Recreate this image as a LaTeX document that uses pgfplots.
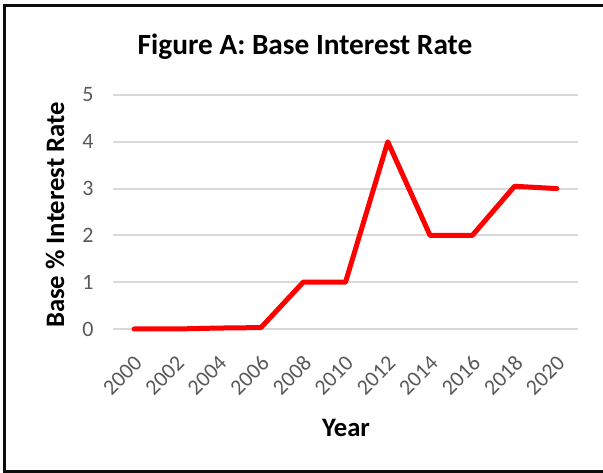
\documentclass[border=0pt]{standalone}
\usepackage{pgfplots}
\pgfplotsset{compat=1.18}
\usepackage{fontspec}
\setmainfont{Carlito}

\definecolor{gridgray}{HTML}{D9D9D9}
\definecolor{ticktext}{HTML}{595959}
\definecolor{framecol}{HTML}{0D0D0D}

\begin{document}
\begin{tikzpicture}[x=0.75pt,y=0.75pt]
% page area, 603 x 473 units
\useasboundingbox (0,0) rectangle (603,473);
% outer chart frame
\draw[framecol, line width=2.25pt] (620,467.5) -- (4,467.5) -- (4,1.5) -- (620,1.5);

\begin{axis}[
  at={(113*0.75pt,144*0.75pt)}, anchor=south west,
  scale only axis,
  width=348.75pt, height=175.5pt,
  xmin=1999, xmax=2021,
  ymin=0, ymax=5,
  xtick={2000,2002,...,2020},
  ytick={0,1,...,5},
  axis line style={draw=none},
  major tick length=0pt,
  ymajorgrids,
  grid style={gridgray, line width=1.5pt},
  /pgf/number format/assume math mode=true,
  /pgf/number format/1000 sep={},
  tick label style={font=\fontsize{16.5}{19}\selectfont, text=ticktext},
  yticklabel style={anchor=east, xshift=-11pt},
  xticklabel style={xshift=-0.75pt, yshift=-18.75pt, rotate=45, anchor=north east, inner sep=0pt},
  clip=false,
]
\addplot[red, line width=3.75pt, line join=round, line cap=round] coordinates {
  (2000,0) (2002,0) (2004,0.02) (2006,0.03) (2008,1) (2010,1)
  (2012,4) (2014,2) (2016,2) (2018,3.05) (2020,3.0)
};
\end{axis}

% title and axis titles
\node[font=\bfseries\fontsize{22}{26}\selectfont] at (305,426) {Figure A: Base Interest Rate};
\node[font=\bfseries\fontsize{20}{24}\selectfont, rotate=90] at (55,258) {Base \% Interest Rate};
\node[font=\bfseries\fontsize{20}{24}\selectfont] at (346,45) {Year};
\end{tikzpicture}
\end{document}
